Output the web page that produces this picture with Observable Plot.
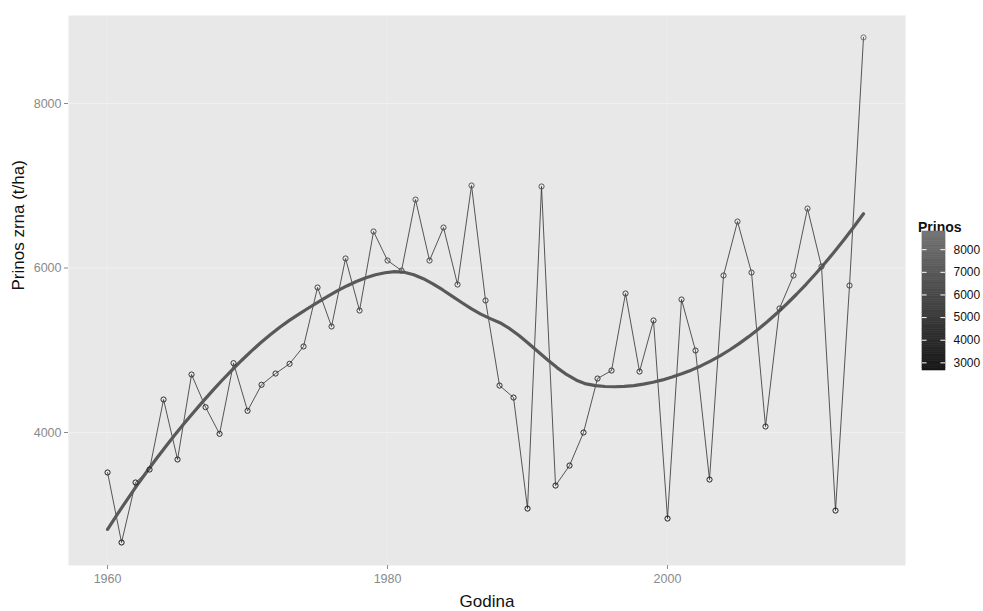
<!DOCTYPE html>
<html>
<head>
<meta charset="utf-8">
<script src="https://cdn.jsdelivr.net/npm/d3@7"></script>
<script src="https://cdn.jsdelivr.net/npm/@observablehq/plot@0.6"></script>
<style>
  html, body { margin: 0; padding: 0; background: #ffffff; }
  #wrap { position: relative; width: 983px; height: 611px; font-family: "Liberation Sans", Arial, sans-serif; }
  #legend { position: absolute; left: 900px; top: 210px; }
  #legendTitle { position: absolute; left: 918px; top: 219px; font-size: 14px; font-weight: bold; color: #111; }
</style>
</head>
<body>
<div id="wrap">
  <div id="main"></div>
  <div id="legendTitle">Prinos</div>
  <div id="legend"></div>
</div>
<script>
// ---- Data ----
const years = [
  1960,1961,1962,1963,1964,1965,1966,1967,1968,1969,
  1970,1971,1972,1973,1974,1975,1976,1977,1978,1979,
  1980,1981,1982,1983,1984,1985,1986,1987,1988,1989,
  1990,1991,1992,1993,1994,1995,1996,1997,1998,1999,
  2000,2001,2002,2003,2004,2005,2006,2007,2008,2009,
  2010,2011,2012,2013,2014
];
const prinos = [
  3514,2663,3392,3550,4401,3672,4705,4308,3984,4843,
  4264,4580,4717,4835,5046,5763,5289,6116,5483,6444,
  6091,5969,6832,6091,6492,5799,7003,5605,4571,4425,
  3075,6991,3355,3598,4000,4656,4753,5690,4741,5362,
  2954,5617,4997,3428,5909,6565,5945,4073,5508,5909,
  6723,6018,3051,5787,8803
];
const xTicks = [1960, 1980, 2000];
const yTicks = [4000, 6000, 8000];
const legendTicks = [3000, 4000, 5000, 6000, 7000, 8000];

const data = years.map((g, i) => ({godina: g, prinos: prinos[i]}));

// ---- LOESS smoother (span 0.75, degree 2), with kd-vertex Hermite interpolation like R ----
function localFit(xs, ys, q, x0) {
  const n = xs.length;
  const d = xs.map(x => Math.abs(x - x0));
  const h = d.slice().sort((a, b) => a - b)[q - 1];
  const S = [[0,0,0],[0,0,0],[0,0,0]], T = [0,0,0];
  for (let i = 0; i < n; i++) {
    const u = d[i] / h;
    if (u >= 1) continue;
    const w = Math.pow(1 - u*u*u, 3);
    const t = xs[i] - x0;
    const b = [1, t, t*t];
    for (let r = 0; r < 3; r++) {
      T[r] += w * b[r] * ys[i];
      for (let c = 0; c < 3; c++) S[r][c] += w * b[r] * b[c];
    }
  }
  const det = m => m[0][0]*(m[1][1]*m[2][2]-m[1][2]*m[2][1]) - m[0][1]*(m[1][0]*m[2][2]-m[1][2]*m[2][0]) + m[0][2]*(m[1][0]*m[2][1]-m[1][1]*m[2][0]);
  const D = det(S);
  const a0 = det(S.map((row, r) => [T[r], row[1], row[2]])) / D;
  const a1 = det(S.map((row, r) => [row[0], T[r], row[2]])) / D;
  return [a0, a1];
}
function loess(xs, ys, span, xout) {
  const n = xs.length;
  const q = Math.floor(n * span);
  const fc = Math.floor(n * span * 0.2);
  const sx = xs.slice().sort((a, b) => a - b);
  const lo = sx[0], hi = sx[n - 1];
  const mu = 0.005 * (hi - lo);
  const verts = [lo - mu, hi + mu];
  (function split(l, u) {
    if (u - l + 1 <= fc) return;
    const m = Math.floor((l + u) / 2);
    verts.push((sx[m] + sx[m + 1]) / 2);
    split(l, m); split(m + 1, u);
  })(0, n - 1);
  verts.sort((a, b) => a - b);
  const vf = verts.map(v => localFit(xs, ys, q, v));
  return xout.map(x0 => {
    let k = 0;
    while (k < verts.length - 2 && x0 > verts[k + 1]) k++;
    const v0 = verts[k], v1 = verts[k + 1], hh = v1 - v0;
    const t = (x0 - v0) / hh;
    const h00 = 2*t*t*t - 3*t*t + 1, h10 = t*t*t - 2*t*t + t;
    const h01 = -2*t*t*t + 3*t*t, h11 = t*t*t - t*t;
    const val = h00*vf[k][0] + h10*hh*vf[k][1] + h01*vf[k+1][0] + h11*hh*vf[k+1][1];
    return {godina: x0, prinos: val};
  });
}
const xmin = d3.min(years), xmax = d3.max(years);
const grid80 = d3.range(80).map(i => xmin + (xmax - xmin) * i / 79);
const smooth = loess(years, prinos, 0.75, grid80);

const colorRange = ["#161616", "#747474"];
const colorDomain = [d3.min(prinos), d3.max(prinos)];

// ---- Main chart ----
const chart = Plot.plot({
  width: 983,
  height: 611,
  marginLeft: 68,
  marginRight: 78,
  marginTop: 15,
  marginBottom: 46,
  style: {fontFamily: "Liberation Sans, Arial, sans-serif", background: "transparent"},
  x: {domain: [1957.21, 2017.0], label: null},
  y: {domain: [2383, 9070], label: null},
  color: {type: "linear", domain: colorDomain, range: colorRange},
  marks: [
    Plot.frame({fill: "#e8e8e8", stroke: "none"}),
    Plot.gridY(yTicks, {stroke: "#ffffff", strokeOpacity: 0.4, strokeWidth: 1.2}),
    Plot.gridX(xTicks, {stroke: "#ffffff", strokeOpacity: 0.2, strokeWidth: 1.2}),
    Plot.axisX(xTicks, {tickSize: 4, tickPadding: 5, fontSize: 12.5, color: "#8a8a8a", tickFormat: d => String(d), label: null}),
    Plot.axisY(yTicks, {tickSize: 4, tickPadding: 3, fontSize: 12.5, color: "#8a8a8a", tickFormat: d => String(d), label: null}),
    Plot.line(data, {x: "godina", y: "prinos", stroke: "#2e2e2e", strokeWidth: 0.8}),
    Plot.line(smooth, {x: "godina", y: "prinos", stroke: "#595959", strokeWidth: 3.2, curve: "linear"}),
    Plot.dot(data, {x: "godina", y: "prinos", r: 2.6, stroke: "prinos", strokeWidth: 1, fill: "none"}),
    Plot.text(["Godina"], {frameAnchor: "bottom", dy: 41, fontSize: 17, fill: "#111", lineAnchor: "bottom"}),
    Plot.text(["Prinos zrna (t/ha)"], {frameAnchor: "left", dx: -50, rotate: -90, fontSize: 17, fill: "#111"})
  ]
});
document.getElementById("main").appendChild(chart);

// ---- Vertical colour bar legend ----
const nSteps = 60;
const steps = d3.range(nSteps).map(i => {
  const a = colorDomain[0] + (colorDomain[1] - colorDomain[0]) * i / nSteps;
  const b = colorDomain[0] + (colorDomain[1] - colorDomain[0]) * (i + 1) / nSteps;
  return {y1: a, y2: b, v: (a + b) / 2};
});
const legend = Plot.plot({
  width: 83,
  height: 170,
  marginTop: 21,
  marginBottom: 10,
  marginLeft: 22,
  marginRight: 38,
  style: {fontFamily: "Liberation Sans, Arial, sans-serif", background: "transparent"},
  x: {domain: [0, 1], axis: null},
  y: {domain: colorDomain, axis: null},
  color: {type: "linear", domain: colorDomain, range: colorRange},
  marks: [
    Plot.rect(steps, {x1: 0, x2: 1, y1: "y1", y2: "y2", fill: "v", stroke: "v", strokeWidth: 0.6}),
    Plot.ruleY(legendTicks, {y: d => d, x1: 0, x2: 0.2, stroke: "#ffffff", strokeWidth: 1}),
    Plot.ruleY(legendTicks, {y: d => d, x1: 0.8, x2: 1, stroke: "#ffffff", strokeWidth: 1}),
    Plot.text(legendTicks, {x: 1, y: d => d, text: d => String(d), dx: 8, textAnchor: "start", fontSize: 12, fill: "#111"})
  ]
});
document.getElementById("legend").appendChild(legend);
</script>
</body>
</html>
